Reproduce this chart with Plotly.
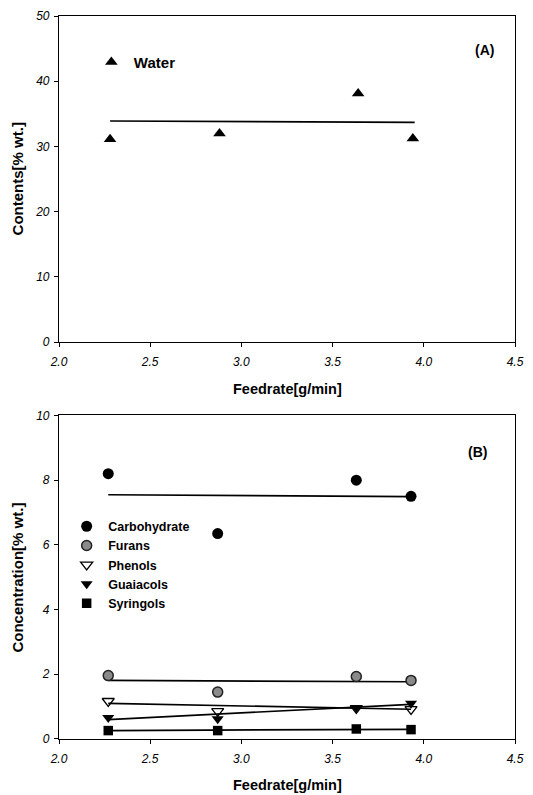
import plotly.graph_objects as go

# ---------------- data ----------------
feed_A = [2.28, 2.88, 3.64, 3.94]
water = [31.1, 32.0, 38.1, 31.2]
trend_x_A = [2.28, 3.95]
trend_water = [33.9, 33.7]

feed_B = [2.27, 2.87, 3.63, 3.93]
carbohydrate = [8.2, 6.35, 8.0, 7.5]
furans = [1.96, 1.45, 1.93, 1.81]
phenols = [1.17, 0.86, 0.95, 0.92]
guaiacols = [0.66, 0.62, 0.97, 1.1]
syringols = [0.26, 0.26, 0.31, 0.29]

trend_x_B = [2.27, 3.93]
trend_carbo = [7.55, 7.49]
trend_furans = [1.81, 1.77]
trend_phenols = [1.1, 0.92]
trend_guaiacols = [0.6, 1.07]
trend_syringols = [0.26, 0.3]

x_ticks = [2.0, 2.5, 3.0, 3.5, 4.0, 4.5]
x_ticklabels = ["2.0", "2.5", "3.0", "3.5", "4.0", "4.5"]
yA_ticks = [0, 10, 20, 30, 40, 50]
yB_ticks = [0, 2, 4, 6, 8, 10]

# ---------------- figure ----------------
fig = go.Figure()
FONT = "Liberation Sans, Arial, sans-serif"
LW = 1.7

# Panel A
fig.add_trace(go.Scatter(x=trend_x_A, y=trend_water, mode="lines",
                         line=dict(color="black", width=LW), showlegend=False,
                         xaxis="x", yaxis="y"))
fig.add_trace(go.Scatter(x=feed_A, y=water, mode="markers", name="Water",
                         marker=dict(symbol="triangle-up", size=11, color="black"),
                         xaxis="x", yaxis="y", legend="legend"))

# Panel B trend lines
for ty in [trend_carbo, trend_furans, trend_phenols, trend_guaiacols, trend_syringols]:
    fig.add_trace(go.Scatter(x=trend_x_B, y=ty, mode="lines",
                             line=dict(color="black", width=LW), showlegend=False,
                             xaxis="x2", yaxis="y2"))

series_B = [
    ("Carbohydrate", carbohydrate, dict(symbol="circle", size=11, color="black")),
    ("Furans", furans, dict(symbol="circle", size=10, color="#8a8a8a",
                            line=dict(color="#222", width=1.5))),
    ("Phenols", phenols, dict(symbol="triangle-down-open", size=10.5, color="black",
                              line=dict(width=1.3))),
    ("Guaiacols", guaiacols, dict(symbol="triangle-down", size=10.5, color="black")),
    ("Syringols", syringols, dict(symbol="square", size=9.5, color="black")),
]
for name, vals, mk in series_B:
    fig.add_trace(go.Scatter(x=feed_B, y=vals, mode="markers", name=name, marker=mk,
                             xaxis="x2", yaxis="y2", legend="legend2"))

tickfont = dict(family=FONT, size=12, color="black", style="italic")
common_x = dict(range=[2.0, 4.5], tickvals=x_ticks, ticktext=x_ticklabels,
                showline=True, linecolor="black", linewidth=1.2, mirror=True,
                ticks="outside", ticklen=4, tickcolor="black", showgrid=False,
                zeroline=False, tickfont=tickfont, ticklabelstandoff=4)
common_y = dict(showline=True, linecolor="black", linewidth=1.2, mirror=True,
                ticks="outside", ticklen=4, tickcolor="black", showgrid=False,
                zeroline=False, tickfont=tickfont, ticklabelstandoff=2)

fig.update_layout(
    width=533, height=795,
    margin=dict(l=58.5, r=9, t=12.7, b=56),
    paper_bgcolor="white", plot_bgcolor="white",
    font=dict(family=FONT, color="black"),
    xaxis=dict(domain=[0, 1], anchor="y", **common_x),
    yaxis=dict(domain=[0.549, 1.0], anchor="x", range=[0, 50], tickvals=yA_ticks, **common_y),
    xaxis2=dict(domain=[0, 1], anchor="y2", **common_x),
    yaxis2=dict(domain=[0.0, 0.4475], anchor="x2", range=[0, 10], tickvals=yB_ticks, **common_y),
    legend=dict(x=0.0655, y=0.9587, xanchor="left", yanchor="top",
                bgcolor="rgba(0,0,0,0)", font=dict(family=FONT, size=15, weight="bold"),
                itemwidth=35, tracegroupgap=0),
    legend2=dict(x=0.0135, y=0.3145, xanchor="left", yanchor="top",
                 bgcolor="rgba(0,0,0,0)", font=dict(family=FONT, size=12.5, weight="bold"),
                 itemwidth=33, tracegroupgap=0),
    showlegend=True,
)

xtitle_font = dict(family=FONT, size=14.5, color="black", weight="bold")
ytitle_font = dict(family=FONT, size=15, color="black", weight="bold")
anns = [
    dict(text="(A)", x=4.398, y=44.8, xref="x", yref="y", xanchor="right", yanchor="middle",
         showarrow=False, font=dict(family=FONT, size=14, weight="bold")),
    dict(text="(B)", x=4.355, y=8.86, xref="x2", yref="y2", xanchor="right", yanchor="middle",
         showarrow=False, font=dict(family=FONT, size=14, weight="bold")),
    dict(text="Feedrate[g/min]", x=0.5, y=-0.1436, xref="x domain", yref="y domain",
         xanchor="center", yanchor="middle", showarrow=False, font=xtitle_font),
    dict(text="Feedrate[g/min]", x=0.5, y=-0.1415, xref="x2 domain", yref="y2 domain",
         xanchor="center", yanchor="middle", showarrow=False, font=xtitle_font),
    dict(text="Contents[% wt.]", x=-0.0913, y=0.5, xref="x domain", yref="y domain",
         xanchor="center", yanchor="middle", textangle=-90, showarrow=False, font=ytitle_font),
    dict(text="Concentration[% wt.]", x=-0.0913, y=0.5, xref="x2 domain", yref="y2 domain",
         xanchor="center", yanchor="middle", textangle=-90, showarrow=False, font=ytitle_font),
]
fig.update_layout(annotations=anns)

fig.write_html("out.html")
